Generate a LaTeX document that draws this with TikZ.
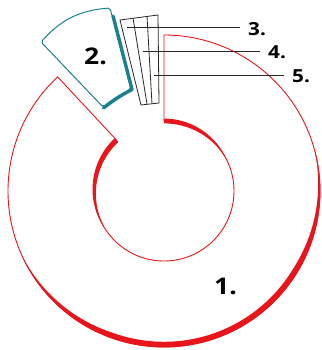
\documentclass[tikz,border=0pt]{standalone}
\usepackage{fontspec}
\newfontfamily\lblfont{Open Sans}[FakeStretch=1.15]
\usetikzlibrary{calc}
\definecolor{mred}{RGB}{232,22,28}
\definecolor{mteal}{RGB}{30,128,140}
\definecolor{mink}{RGB}{40,40,40}
\tikzset{
  redline/.style={draw=mred, line width=0.9pt},
  tealline/.style={draw=mteal, line width=1pt, rounded corners=2pt},
  tealthick/.style={draw=mteal, line width=3.4pt, line cap=round, line join=round},
  stripline/.style={draw=mink, line width=0.8pt},
  leader/.style={draw=mink, line width=0.8pt, shorten >=8pt},
  biglbl/.style={font=\lblfont\bfseries\fontsize{23}{23}\selectfont, text=black, inner sep=0pt, anchor=west},
  smalllbl/.style={font=\lblfont\bfseries\fontsize{18}{18}\selectfont, text=black, inner sep=0pt, anchor=west},
}
\begin{document}
\begin{tikzpicture}[x=1pt,y=1pt]
\useasboundingbox (0,0) rectangle (321,350);
\coordinate (c) at (164,159);
% ---- part 1: red ring with slot
\draw[redline] ($(c)+(133:156)$) arc[start angle=133,end angle=450,radius=156]
   -- ($(c)+(90:70)$) arc[start angle=90,end angle=-227,radius=70] -- cycle;
% tapered thick portions
\fill[mred] plot[domain=205:375,samples=80] ({164+156.4*cos(\x)},{159+156.4*sin(\x)})
  -- plot[domain=375:205,samples=80] ({164+(156-min(5.2,7*sin((\x-205)*1.0588)))*cos(\x)},{159+(156-min(5.2,7*sin((\x-205)*1.0588)))*sin(\x)}) -- cycle;
\fill[mred] plot[domain=133:210,samples=50] ({164+(70+0.4+1.8*cos((\x-133)*1.169))*cos(\x)},{159+(70+0.4+1.8*cos((\x-133)*1.169))*sin(\x)})
  -- plot[domain=210:133,samples=50] ({164+(70-0.4-2.6*cos((\x-133)*1.169))*cos(\x)},{159+(70-0.4-2.6*cos((\x-133)*1.169))*sin(\x)}) -- cycle;
\fill[mred] plot[domain=90:30,samples=50] ({164+(70+0.4+2*cos((90-\x)*1.5))*cos(\x)},{159+(70+0.4+2*cos((90-\x)*1.5))*sin(\x)})
  -- plot[domain=30:90,samples=50] ({164+(70-0.4-2*cos((90-\x)*1.5))*cos(\x)},{159+(70-0.4-2*cos((90-\x)*1.5))*sin(\x)}) -- cycle;
% ---- part 2: teal key
\coordinate (kL) at (41,308);
\coordinate (kT) at (110,342);
\coordinate (kBR) at (131,261);
\coordinate (kBL) at (103,243);
\draw[tealline] (kL) to[bend left=22] (kT) -- (kBR) to[bend right=5] (kBL) -- cycle;
\draw[tealthick] ($(kT)!0.1!(kBR)+(1,0)$) -- ($(kBR)+(1,-0.5)$) to[bend right=5] ($(kBL)+(0.5,-1)$);
% ---- parts 3-5: strips
\coordinate (sTL) at (120,330);
\coordinate (sTR) at (158,335);
\coordinate (sBR) at (159,247);
\coordinate (sBL) at (141,245);
\coordinate (aT) at (133,332);
\coordinate (aB) at (147,246);
\coordinate (bT) at (147,334);
\coordinate (bB) at (152,246);
\draw[stripline] (sTL) -- (sTR) -- (sBR) -- (sBL) -- cycle;
\draw[stripline] (aT) -- (aB);
\draw[stripline] (bT) -- (bB);
% ---- labels
\node[biglbl] (l1) at (214,63.5) {1.};
\node[biglbl] (l2) at (84,294) {2.};
\node[smalllbl] (l3) at (248,320.5) {3.};
\node[smalllbl] (l4) at (268,297.5) {4.};
\node[smalllbl] (l5) at (292,273.5) {5.};
\coordinate (p3) at (127,323);
\coordinate (p4) at (143,299);
\coordinate (p5) at (154,274.5);
\draw[leader] (p3) -- (p3 -| l3.west);
\draw[leader] (p4) -- (p4 -| l4.west);
\draw[leader] (p5) -- (p5 -| l5.west);
\end{tikzpicture}
\end{document}
